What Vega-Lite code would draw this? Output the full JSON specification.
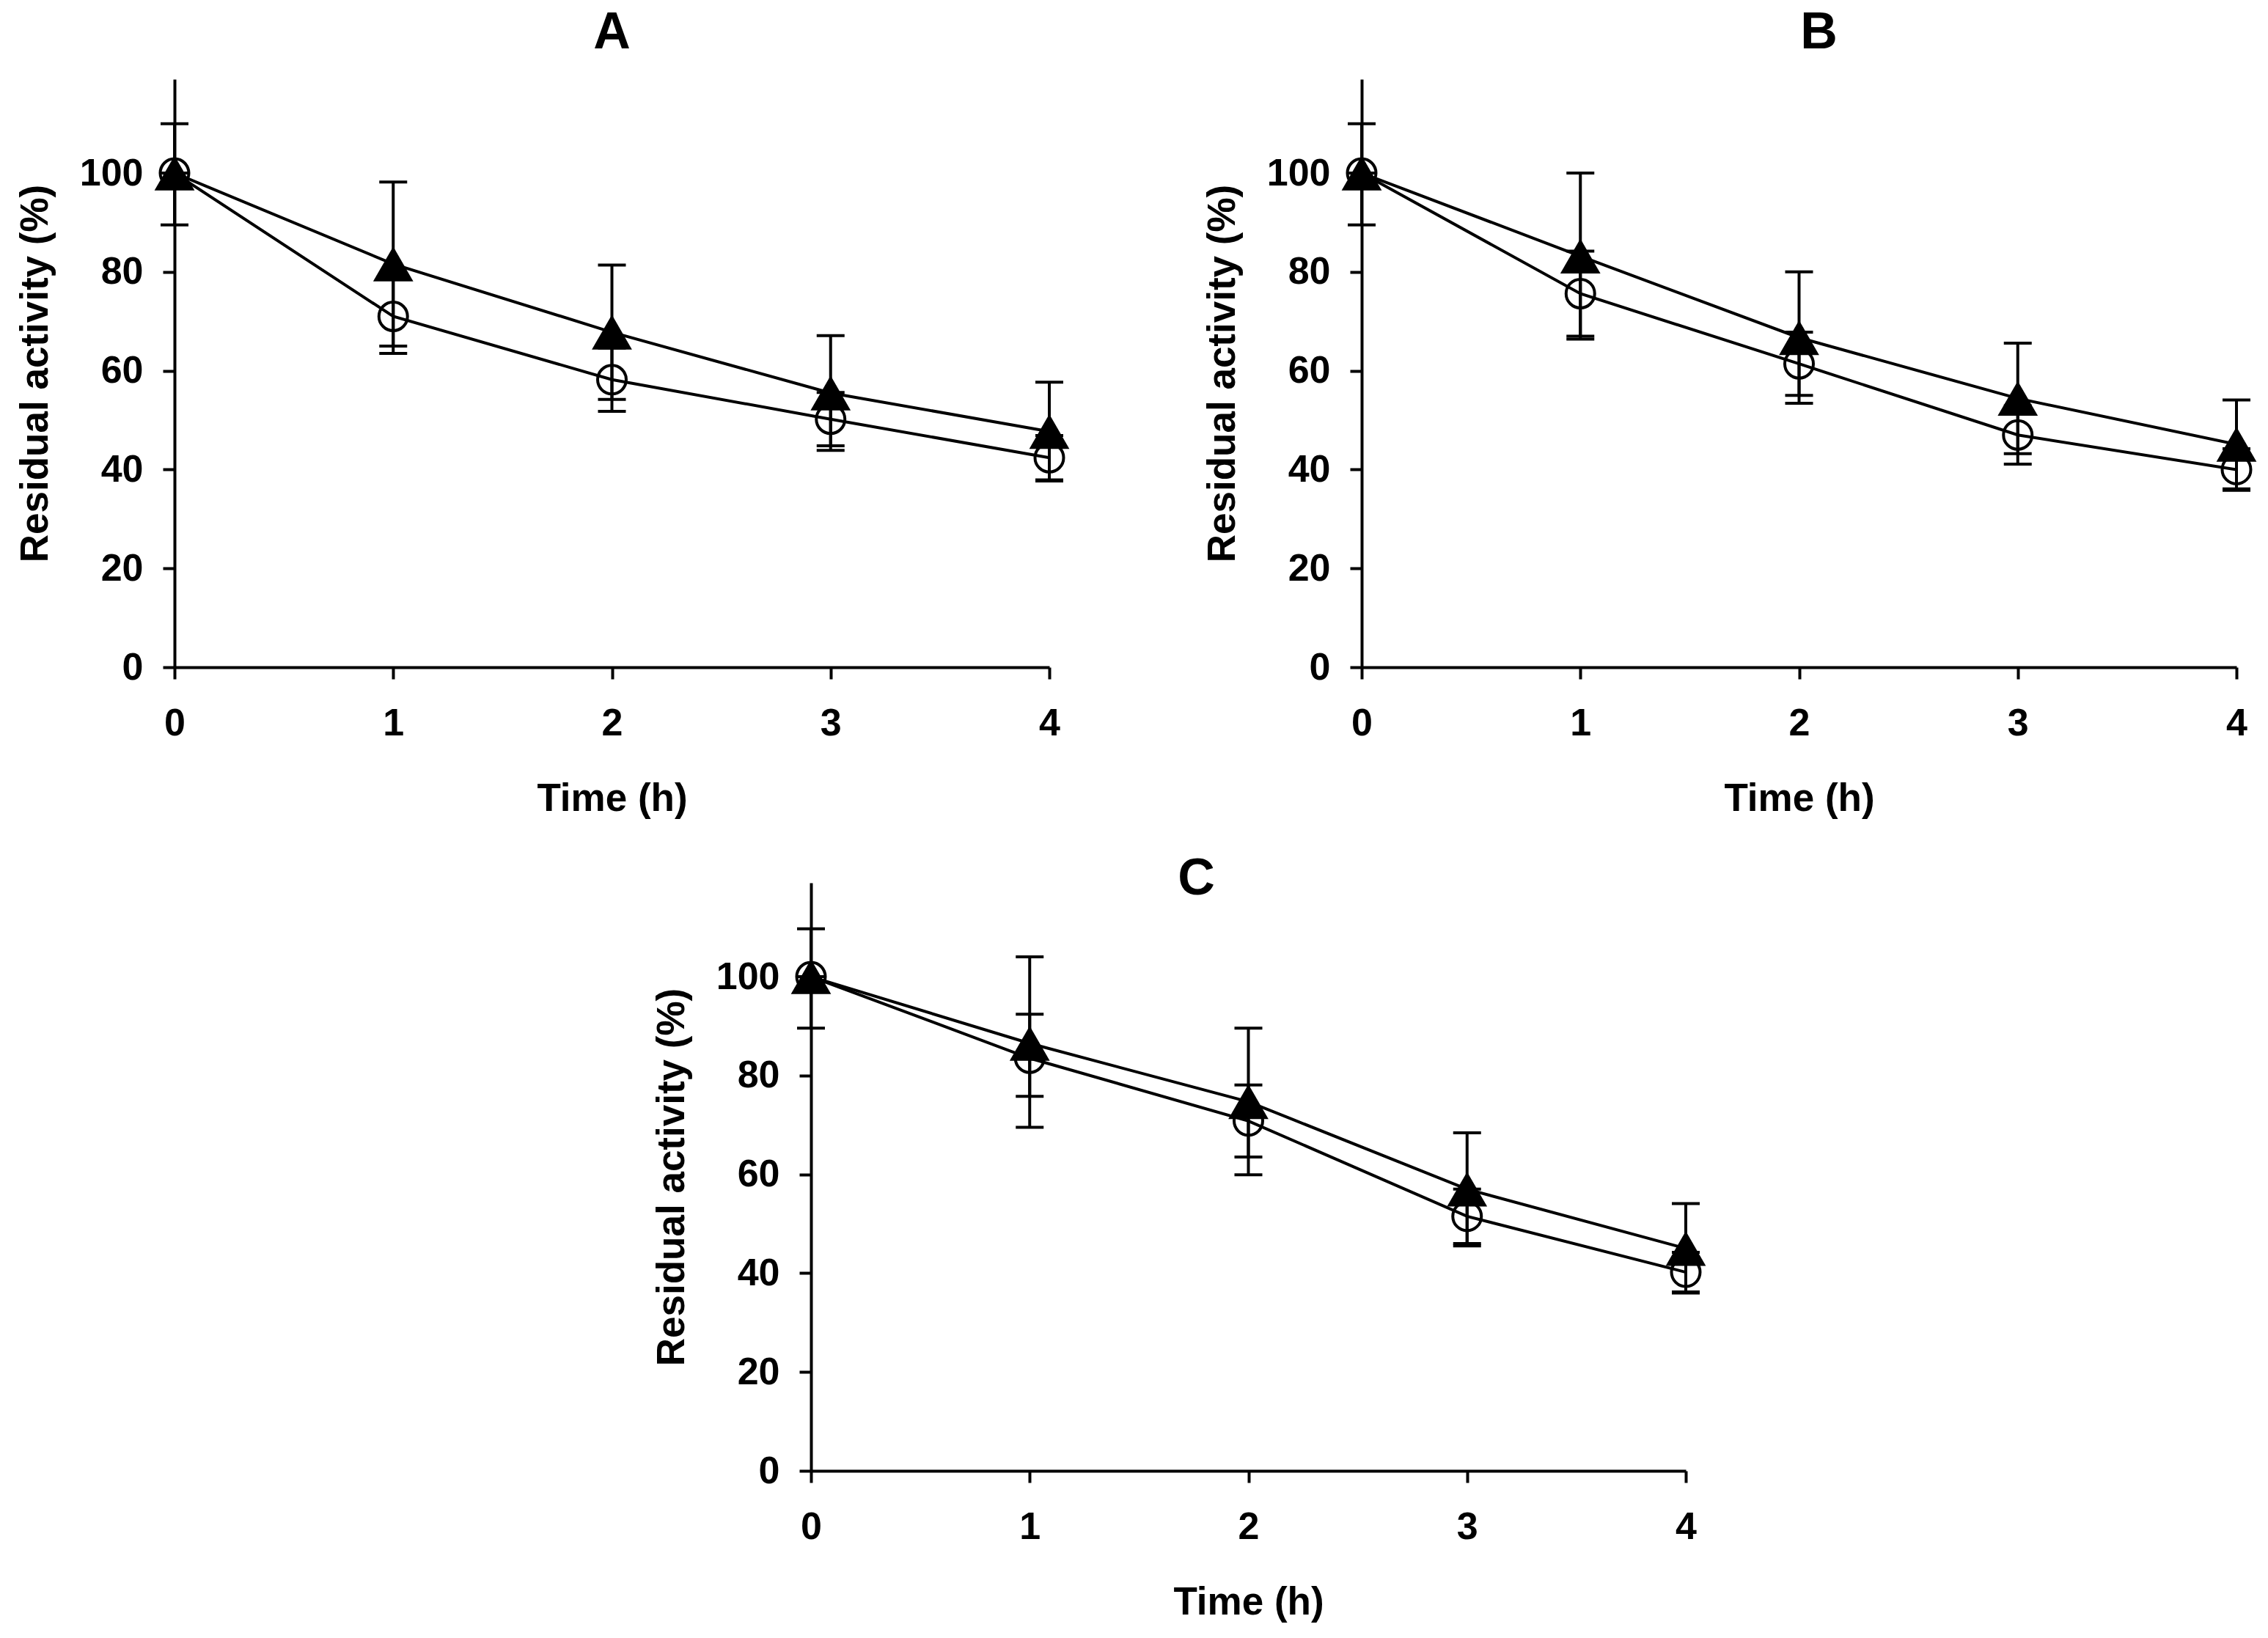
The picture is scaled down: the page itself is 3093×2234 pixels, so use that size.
{
  "$schema": "https://vega.github.io/schema/vega-lite/v6.json",
  "background": "white",
  "padding": {"left": 22, "top": 10, "right": 10, "bottom": 10},
  "data": {"values": [
    {"panel": "A", "series": "circle", "t": 0, "mean": 100, "lo": 100, "hi": 100},
    {"panel": "A", "series": "circle", "t": 1, "mean": 71.0, "lo": 63.5, "hi": 78.5},
    {"panel": "A", "series": "circle", "t": 2, "mean": 58.2, "lo": 51.8, "hi": 64.6},
    {"panel": "A", "series": "circle", "t": 3, "mean": 50.2, "lo": 44.8, "hi": 55.6},
    {"panel": "A", "series": "circle", "t": 4, "mean": 42.4, "lo": 37.9, "hi": 46.9},
    {"panel": "A", "series": "triangle", "t": 0, "mean": 100, "lo": 89.5, "hi": 110},
    {"panel": "A", "series": "triangle", "t": 1, "mean": 81.6, "lo": 65.0, "hi": 98.2},
    {"panel": "A", "series": "triangle", "t": 2, "mean": 67.8, "lo": 54.2, "hi": 81.4},
    {"panel": "A", "series": "triangle", "t": 3, "mean": 55.5, "lo": 43.9, "hi": 67.1},
    {"panel": "A", "series": "triangle", "t": 4, "mean": 47.7, "lo": 37.7, "hi": 57.7},
    {"panel": "B", "series": "circle", "t": 0, "mean": 100, "lo": 100, "hi": 100},
    {"panel": "B", "series": "circle", "t": 1, "mean": 75.6, "lo": 67.0, "hi": 84.2},
    {"panel": "B", "series": "circle", "t": 2, "mean": 61.4, "lo": 55.0, "hi": 67.8},
    {"panel": "B", "series": "circle", "t": 3, "mean": 47.0, "lo": 41.1, "hi": 52.9},
    {"panel": "B", "series": "circle", "t": 4, "mean": 40.0, "lo": 35.8, "hi": 44.2},
    {"panel": "B", "series": "triangle", "t": 0, "mean": 100, "lo": 89.5, "hi": 110},
    {"panel": "B", "series": "triangle", "t": 1, "mean": 83.2, "lo": 66.4, "hi": 100},
    {"panel": "B", "series": "triangle", "t": 2, "mean": 66.7, "lo": 53.4, "hi": 80.0},
    {"panel": "B", "series": "triangle", "t": 3, "mean": 54.4, "lo": 43.2, "hi": 65.6},
    {"panel": "B", "series": "triangle", "t": 4, "mean": 45.1, "lo": 36.1, "hi": 54.1},
    {"panel": "C", "series": "circle", "t": 0, "mean": 100, "lo": 100, "hi": 100},
    {"panel": "C", "series": "circle", "t": 1, "mean": 83.5, "lo": 75.8, "hi": 92.4},
    {"panel": "C", "series": "circle", "t": 2, "mean": 70.8, "lo": 63.5, "hi": 78.1},
    {"panel": "C", "series": "circle", "t": 3, "mean": 51.5, "lo": 46.0, "hi": 57.0},
    {"panel": "C", "series": "circle", "t": 4, "mean": 40.2, "lo": 36.2, "hi": 44.2},
    {"panel": "C", "series": "triangle", "t": 0, "mean": 100, "lo": 89.6, "hi": 109.7},
    {"panel": "C", "series": "triangle", "t": 1, "mean": 86.5, "lo": 69.5, "hi": 104.0},
    {"panel": "C", "series": "triangle", "t": 2, "mean": 74.7, "lo": 59.9, "hi": 89.6},
    {"panel": "C", "series": "triangle", "t": 3, "mean": 57.0, "lo": 45.5, "hi": 68.4},
    {"panel": "C", "series": "triangle", "t": 4, "mean": 45.0, "lo": 36.0, "hi": 54.1}
  ]},
  "bounds": "flush",
  "spacing": 1096,
  "vconcat": [
    {
      "bounds": "flush",
      "spacing": 426,
      "hconcat": [
        {
          "width": 1193, "height": 802,
          "title": {"text": "A", "dx": 0},
          "transform": [{"filter": "datum.panel === 'A'"}],
          "encoding": {"x": {"field": "t", "type": "quantitative", "title": "Time (h)", "scale": {"domain": [0, 4], "nice": false}, "axis": {"values": [0, 1, 2, 3, 4], "format": "d"}}},
          "layer": [
            {"mark": {"type": "rule", "strokeWidth": 4, "color": "black"}, "encoding": {"y": {"field": "lo", "type": "quantitative", "title": "Residual activity (%)", "scale": {"domain": [0, 119], "nice": false}, "axis": {"values": [0, 20, 40, 60, 80, 100]}}, "y2": {"field": "hi"}}},
            {"mark": {"type": "tick", "orient": "horizontal", "size": 38, "thickness": 4, "color": "black", "opacity": 1}, "encoding": {"y": {"field": "lo", "type": "quantitative", "title": "Residual activity (%)"}}},
            {"mark": {"type": "tick", "orient": "horizontal", "size": 38, "thickness": 4, "color": "black", "opacity": 1}, "encoding": {"y": {"field": "hi", "type": "quantitative", "title": "Residual activity (%)"}}},
            {"mark": {"type": "line", "strokeWidth": 4, "color": "black"}, "encoding": {"y": {"field": "mean", "type": "quantitative", "title": "Residual activity (%)"}, "detail": {"field": "series"}}},
            {"transform": [{"filter": "datum.series === 'circle'"}], "mark": {"type": "point", "shape": "circle", "filled": false, "size": 1520, "strokeWidth": 4, "color": "black", "opacity": 1}, "encoding": {"y": {"field": "mean", "type": "quantitative", "title": "Residual activity (%)"}}},
            {"transform": [{"filter": "datum.series === 'triangle'"}], "mark": {"type": "point", "shape": "triangle-up", "filled": true, "size": 3000, "color": "black", "opacity": 1}, "encoding": {"y": {"field": "mean", "type": "quantitative", "title": "Residual activity (%)"}}}
          ]
        },
        {
          "width": 1193, "height": 802,
          "title": {"text": "B", "dx": 27},
          "transform": [{"filter": "datum.panel === 'B'"}],
          "encoding": {"x": {"field": "t", "type": "quantitative", "title": "Time (h)", "scale": {"domain": [0, 4], "nice": false}, "axis": {"values": [0, 1, 2, 3, 4], "format": "d"}}},
          "layer": [
            {"mark": {"type": "rule", "strokeWidth": 4, "color": "black"}, "encoding": {"y": {"field": "lo", "type": "quantitative", "title": "Residual activity (%)", "scale": {"domain": [0, 119], "nice": false}, "axis": {"values": [0, 20, 40, 60, 80, 100]}}, "y2": {"field": "hi"}}},
            {"mark": {"type": "tick", "orient": "horizontal", "size": 38, "thickness": 4, "color": "black", "opacity": 1}, "encoding": {"y": {"field": "lo", "type": "quantitative", "title": "Residual activity (%)"}}},
            {"mark": {"type": "tick", "orient": "horizontal", "size": 38, "thickness": 4, "color": "black", "opacity": 1}, "encoding": {"y": {"field": "hi", "type": "quantitative", "title": "Residual activity (%)"}}},
            {"mark": {"type": "line", "strokeWidth": 4, "color": "black"}, "encoding": {"y": {"field": "mean", "type": "quantitative", "title": "Residual activity (%)"}, "detail": {"field": "series"}}},
            {"transform": [{"filter": "datum.series === 'circle'"}], "mark": {"type": "point", "shape": "circle", "filled": false, "size": 1520, "strokeWidth": 4, "color": "black", "opacity": 1}, "encoding": {"y": {"field": "mean", "type": "quantitative", "title": "Residual activity (%)"}}},
            {"transform": [{"filter": "datum.series === 'triangle'"}], "mark": {"type": "point", "shape": "triangle-up", "filled": true, "size": 3000, "color": "black", "opacity": 1}, "encoding": {"y": {"field": "mean", "type": "quantitative", "title": "Residual activity (%)"}}}
          ]
        }
      ]
    },
    {
      "bounds": "flush",
      "spacing": 20,
      "hconcat": [
        {
          "width": 848, "height": 10,
          "transform": [{"filter": "false"}],
          "mark": {"type": "point", "opacity": 0},
          "encoding": {}
        },
        {
          "width": 1193, "height": 802,
          "title": {"text": "C", "dx": -71, "offset": -31},
          "transform": [{"filter": "datum.panel === 'C'"}],
          "encoding": {"x": {"field": "t", "type": "quantitative", "title": "Time (h)", "scale": {"domain": [0, 4], "nice": false}, "axis": {"values": [0, 1, 2, 3, 4], "format": "d"}}},
          "layer": [
            {"mark": {"type": "rule", "strokeWidth": 4, "color": "black"}, "encoding": {"y": {"field": "lo", "type": "quantitative", "title": "Residual activity (%)", "scale": {"domain": [0, 119], "nice": false}, "axis": {"values": [0, 20, 40, 60, 80, 100]}}, "y2": {"field": "hi"}}},
            {"mark": {"type": "tick", "orient": "horizontal", "size": 38, "thickness": 4, "color": "black", "opacity": 1}, "encoding": {"y": {"field": "lo", "type": "quantitative", "title": "Residual activity (%)"}}},
            {"mark": {"type": "tick", "orient": "horizontal", "size": 38, "thickness": 4, "color": "black", "opacity": 1}, "encoding": {"y": {"field": "hi", "type": "quantitative", "title": "Residual activity (%)"}}},
            {"mark": {"type": "line", "strokeWidth": 4, "color": "black"}, "encoding": {"y": {"field": "mean", "type": "quantitative", "title": "Residual activity (%)"}, "detail": {"field": "series"}}},
            {"transform": [{"filter": "datum.series === 'circle'"}], "mark": {"type": "point", "shape": "circle", "filled": false, "size": 1520, "strokeWidth": 4, "color": "black", "opacity": 1}, "encoding": {"y": {"field": "mean", "type": "quantitative", "title": "Residual activity (%)"}}},
            {"transform": [{"filter": "datum.series === 'triangle'"}], "mark": {"type": "point", "shape": "triangle-up", "filled": true, "size": 3000, "color": "black", "opacity": 1}, "encoding": {"y": {"field": "mean", "type": "quantitative", "title": "Residual activity (%)"}}}
          ]
        }
      ]
    }
  ],
  "config": {
    "font": "Liberation Sans",
    "view": {"stroke": null},
    "title": {"fontSize": 70, "fontWeight": "bold", "color": "black", "offset": 27, "anchor": "middle", "font": "Liberation Sans"},
    "axis": {
      "grid": false,
      "domainColor": "black", "domainWidth": 4,
      "tickColor": "black", "tickWidth": 4, "tickSize": 16,
      "labelColor": "black", "labelFontSize": 52, "labelFontWeight": "bold", "labelFont": "Liberation Sans",
      "labelFlush": false, "labelOverlap": false,
      "titleColor": "black", "titleFontSize": 53, "titleFontWeight": "bold", "titleFont": "Liberation Sans"
    },
    "axisX": {"labelPadding": 35, "titlePadding": 51},
    "axisY": {"labelPadding": 27, "titlePadding": 33}
  }
}
